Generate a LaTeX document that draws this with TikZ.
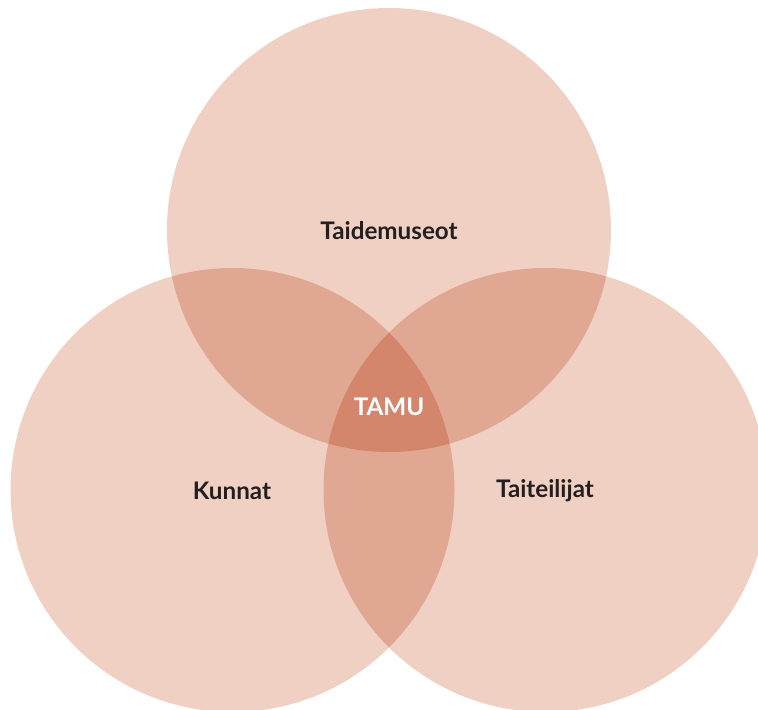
\documentclass[tikz,border=0pt]{standalone}
\usepackage{fontspec}
\setmainfont{Lato}
\definecolor{light}{HTML}{F0D0C2}
\definecolor{mid}{HTML}{E0A892}
\definecolor{dark}{HTML}{D4866C}
\definecolor{ink}{HTML}{231F20}
\tikzset{
  lbl/.style={font=\fontsize{24.3}{27}\selectfont\bfseries, text=ink, inner sep=0pt},
}
\begin{document}
\begin{tikzpicture}[x=1bp,y=-1bp]
\useasboundingbox (0,0) rectangle (758,710);
\clip (0,0) rectangle (758,710);
\coordinate (T) at (389,230);
\coordinate (L) at (232.5,490);
\coordinate (R) at (545.5,490);
\def\rad{222}
% base circles
\fill[light] (T) circle (\rad);
\fill[light] (L) circle (\rad);
\fill[light] (R) circle (\rad);
% pairwise overlaps
\begin{scope}\clip (T) circle (\rad); \fill[mid] (L) circle (\rad); \end{scope}
\begin{scope}\clip (T) circle (\rad); \fill[mid] (R) circle (\rad); \end{scope}
\begin{scope}\clip (L) circle (\rad); \fill[mid] (R) circle (\rad); \end{scope}
% triple overlap
\begin{scope}\clip (T) circle (\rad); \clip (L) circle (\rad); \fill[dark] (R) circle (\rad); \end{scope}
% labels
\node[lbl] (taide) at (389,231) {Taidemuseot};
\node[lbl] (kunnat) at (232,491) {Kunnat};
\node[lbl] (taiteilijat) at (545,491) {Taiteilijat};
\node[lbl, text=white] (tamu) at (389,407) {TAMU};
\end{tikzpicture}
\end{document}
